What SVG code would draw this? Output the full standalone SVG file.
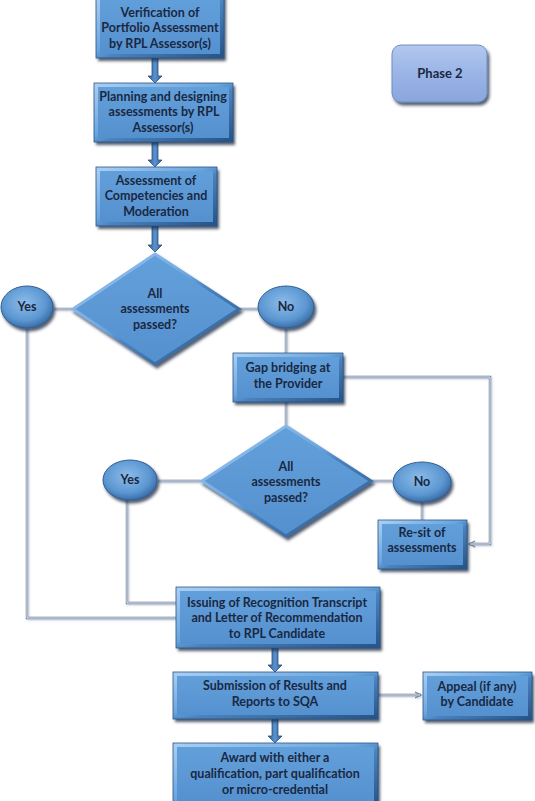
<svg xmlns="http://www.w3.org/2000/svg" width="535" height="801" viewBox="0 0 535 801">
<defs>
  <linearGradient id="bev" x1="0" y1="0" x2="1" y2="1">
    <stop offset="0" stop-color="#A9CDF2"/>
    <stop offset="0.45" stop-color="#6AA5DE"/>
    <stop offset="0.55" stop-color="#4A83C0"/>
    <stop offset="1" stop-color="#275588"/>
  </linearGradient>
  <linearGradient id="fillg" x1="0" y1="0" x2="0" y2="1">
    <stop offset="0" stop-color="#62A0DB"/>
    <stop offset="1" stop-color="#5590CE"/>
  </linearGradient>
  <radialGradient id="ellg" cx="0.45" cy="0.4" r="0.6">
    <stop offset="0" stop-color="#8DBCE9"/>
    <stop offset="0.7" stop-color="#5C97D2"/>
    <stop offset="1" stop-color="#3A6EA8"/>
  </radialGradient>
  <linearGradient id="phg" x1="0" y1="0" x2="0" y2="1">
    <stop offset="0" stop-color="#B3C8EE"/>
    <stop offset="0.5" stop-color="#9AB4E6"/>
    <stop offset="1" stop-color="#8AA6DC"/>
  </linearGradient>
  <linearGradient id="shaft" x1="0" y1="0" x2="1" y2="0">
    <stop offset="0" stop-color="#2E5E95"/>
    <stop offset="0.5" stop-color="#5A92CF"/>
    <stop offset="1" stop-color="#2E5E95"/>
  </linearGradient>
  <filter id="sh" x="-20%" y="-20%" width="140%" height="150%">
    <feDropShadow dx="2" dy="3" stdDeviation="1.8" flood-color="#1A2A40" flood-opacity="0.75"/>
  </filter>
  <filter id="lsh" x="-20%" y="-20%" width="140%" height="140%">
    <feDropShadow dx="1" dy="1" stdDeviation="0.8" flood-color="#9AA8BC" flood-opacity="0.6"/>
  </filter>
  <marker id="ah" markerWidth="8" markerHeight="8" refX="6" refY="4" orient="auto" markerUnits="userSpaceOnUse">
    <path d="M0,1 L6,4 L0,7" fill="none" stroke="#6F83A1" stroke-width="1.2"/>
  </marker>
</defs>
<style>
  .box { fill: url(#fillg); stroke: url(#bev); stroke-width: 4; filter: url(#sh); }
  .edge { fill: none; stroke: #2A5586; stroke-width: 0.8; }
  .ell { fill: url(#ellg); stroke: #2F5E92; stroke-width: 1; filter: url(#sh); }
  .dia { fill: url(#fillg); stroke: url(#bev); stroke-width: 3; filter: url(#sh); }
  .t { font-family: Lato, "Liberation Sans", sans-serif; font-weight: bold; font-size: 12.5px; fill: #1A2842; text-anchor: middle; }
  .ln { fill: none; stroke: #6F83A1; stroke-width: 2.4; }
  .lni { fill: none; stroke: #F4F7FB; stroke-width: 0.9; }
  .fs { fill: url(#shaft); stroke: #284E7C; stroke-width: 0.8; }
</style>

<g id="connectors">
  <path class="fs" d="M152,58 L158,58 L158,76 L162,76 L155,83 L148,76 L152,76 Z"/>
  <path class="fs" d="M152,142 L158,142 L158,160 L162,160 L155,167 L148,160 L152,160 Z"/>
  <path class="fs" d="M152,226 L158,226 L158,245 L162,245 L155,252 L148,245 L152,245 Z"/>
  <path class="fs" d="M272,647 L278,647 L278,665 L282,665 L275,672 L268,665 L272,665 Z"/>
  <path class="fs" d="M272,718 L278,718 L278,736 L282,736 L275,743 L268,736 L272,736 Z"/>
  <g filter="url(#lsh)">
    <path class="ln" d="M72,309 L54,309"/>
    <path class="ln" d="M240,309 L258,309"/>
    <path class="ln" d="M27,329 L27,618 L176,618"/>
    <path class="ln" d="M286,329 L286,353"/>
    <path class="ln" d="M286,401 L286,425"/>
    <path class="ln" d="M201,481 L158,481"/>
    <path class="ln" d="M372,481 L392,481"/>
    <path class="ln" d="M127,500 L127,603 L176,603"/>
    <path class="ln" d="M422,502 L422,520"/>
    <path class="ln" d="M343,377 L490,377 L490,544 L469,544" marker-end="url(#ah)"/>
    <path class="ln" d="M378,695 L421,695" marker-end="url(#ah)"/>
  </g>
  <path class="lni" d="M72,309 L54,309"/>
  <path class="lni" d="M240,309 L258,309"/>
  <path class="lni" d="M27,329 L27,618 L176,618"/>
  <path class="lni" d="M286,329 L286,353"/>
  <path class="lni" d="M286,401 L286,425"/>
  <path class="lni" d="M201,481 L158,481"/>
  <path class="lni" d="M372,481 L392,481"/>
  <path class="lni" d="M127,500 L127,603 L176,603"/>
  <path class="lni" d="M422,502 L422,520"/>
  <path class="lni" d="M343,377 L490,377 L490,544 L470,544"/>
  <path class="lni" d="M378,695 L420,695"/>
</g>

<g id="n-verify">
  <rect class="box" x="98" y="-4" width="124" height="60"/>
  <rect class="edge" x="96" y="-6" width="128" height="64"/>
  <text class="t" x="160" y="17">Verification of</text>
  <text class="t" x="160" y="32">Portfolio Assessment</text>
  <text class="t" x="160" y="48">by RPL Assessor(s)</text>
</g>
<g id="n-plan">
  <rect class="box" x="96" y="85" width="135" height="55"/>
  <rect class="edge" x="94" y="83" width="139" height="59"/>
  <text class="t" x="163" y="101">Planning and designing</text>
  <text class="t" x="164" y="116">assessments by RPL</text>
  <text class="t" x="163" y="132">Assessor(s)</text>
</g>
<g id="n-assess">
  <rect class="box" x="98" y="169" width="117" height="55"/>
  <rect class="edge" x="96" y="167" width="121" height="59"/>
  <text class="t" x="156" y="185">Assessment of</text>
  <text class="t" x="156" y="200">Competencies and</text>
  <text class="t" x="156" y="216">Moderation</text>
</g>
<g id="n-dec1">
  <polygon class="dia" points="155,254 239,309 155,364 73,309"/>
  <text class="t" x="155" y="298">All</text>
  <text class="t" x="155" y="313">assessments</text>
  <text class="t" x="155" y="329">passed?</text>
</g>
<g id="n-yes1">
  <ellipse class="ell" cx="27" cy="307" rx="26" ry="21"/>
  <text class="t" x="27" y="311">Yes</text>
</g>
<g id="n-no1">
  <ellipse class="ell" cx="286" cy="307" rx="28" ry="21"/>
  <text class="t" x="286" y="311">No</text>
</g>
<g id="n-gap">
  <rect class="box" x="235" y="355" width="106" height="45"/>
  <rect class="edge" x="233" y="353" width="110" height="49"/>
  <text class="t" x="288" y="372">Gap bridging at</text>
  <text class="t" x="288" y="388">the Provider</text>
</g>
<g id="n-dec2">
  <polygon class="dia" points="286,426 371,481 286,536 202,481"/>
  <text class="t" x="286" y="471">All</text>
  <text class="t" x="286" y="486">assessments</text>
  <text class="t" x="286" y="502">passed?</text>
</g>
<g id="n-yes2">
  <ellipse class="ell" cx="130" cy="480" rx="27" ry="20"/>
  <text class="t" x="130" y="484">Yes</text>
</g>
<g id="n-no2">
  <ellipse class="ell" cx="422" cy="482" rx="29" ry="20"/>
  <text class="t" x="422" y="486">No</text>
</g>
<g id="n-resit">
  <rect class="box" x="380" y="522" width="85" height="45"/>
  <rect class="edge" x="378" y="520" width="89" height="49"/>
  <text class="t" x="422" y="537">Re-sit of</text>
  <text class="t" x="422" y="552">assessments</text>
</g>
<g id="n-issue">
  <rect class="box" x="178" y="589" width="200" height="57"/>
  <rect class="edge" x="176" y="587" width="204" height="61"/>
  <text class="t" x="277" y="607">Issuing of Recognition Transcript</text>
  <text class="t" x="277" y="622">and Letter of Recommendation</text>
  <text class="t" x="277" y="638">to RPL Candidate</text>
</g>
<g id="n-submit">
  <rect class="box" x="175" y="674" width="201" height="43"/>
  <rect class="edge" x="173" y="672" width="205" height="47"/>
  <text class="t" x="275" y="690">Submission of Results and</text>
  <text class="t" x="275" y="706">Reports to SQA</text>
</g>
<g id="n-appeal">
  <rect class="box" x="425" y="674" width="105" height="44"/>
  <rect class="edge" x="423" y="672" width="109" height="48"/>
  <text class="t" x="477" y="691">Appeal (if any)</text>
  <text class="t" x="477" y="706">by Candidate</text>
</g>
<g id="n-award">
  <rect class="box" x="175" y="745" width="201" height="60"/>
  <rect class="edge" x="173" y="743" width="205" height="64"/>
  <text class="t" x="275" y="762">Award with either a</text>
  <text class="t" x="275" y="778">qualification, part qualification</text>
  <text class="t" x="275" y="794">or micro-credential</text>
</g>
<g id="n-phase">
  <rect x="392" y="45" width="95" height="57" rx="9" fill="url(#phg)" stroke="#6F8CC4" stroke-width="1" filter="url(#sh)"/>
  <text class="t" x="440" y="78" style="font-size:13px">Phase 2</text>
</g>
</svg>
